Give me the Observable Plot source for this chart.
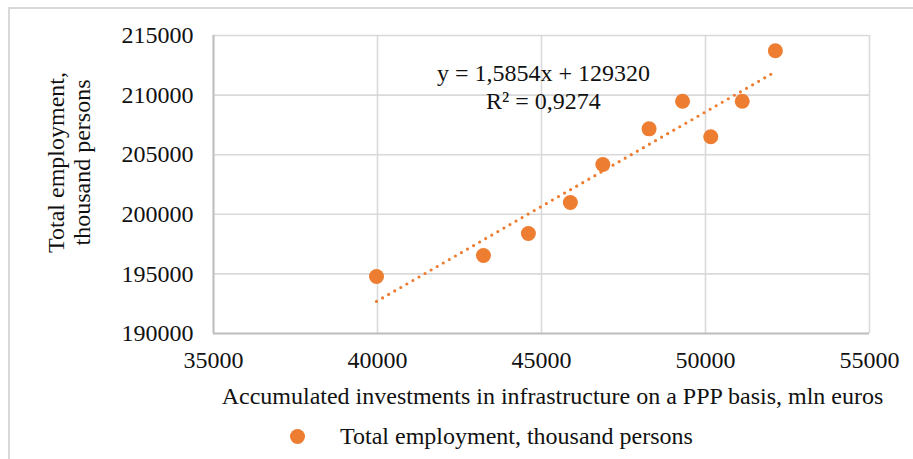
<!DOCTYPE html>
<html>
<head>
<meta charset="utf-8">
<script src="https://cdn.jsdelivr.net/npm/d3@7"></script>
<script src="https://cdn.jsdelivr.net/npm/@observablehq/plot@0.6"></script>
<style>
  html, body { margin: 0; padding: 0; background: #fff; }
  #wrap { position: relative; width: 913px; height: 459px; overflow: hidden; font-family: "Liberation Serif", "Times New Roman", serif; }
  #border { position: absolute; left: 8px; top: 7px; width: 1200px; height: 1200px; border-top: 2px solid #d9d9d9; border-left: 2px solid #d9d9d9; }
  #chart { position: absolute; left: 0; top: 0; }
  #legend { position: absolute; left: 290px; top: 421px; display: flex; align-items: center; font-size: 24px; color: #111; line-height: 30px; white-space: nowrap; }
  #legend .sw { width: 15px; height: 15px; border-radius: 50%; background: #ED7D31; margin-right: 35px; }
</style>
</head>
<body>
<div id="wrap">
  <div id="border"></div>
  <div id="chart"></div>
  <div id="legend"><span class="sw"></span><span id="legtext"></span></div>
</div>
<script>
// Data
const investments = [39970, 43230, 44600, 45880, 46870, 48280, 49300, 50160, 51120, 52130];
const employment  = [194780, 196540, 198390, 200990, 204180, 207170, 209490, 206500, 209490, 213720];
const xTicks = [35000, 40000, 45000, 50000, 55000];
const yTicks = [190000, 195000, 200000, 205000, 210000, 215000];
const trendSlope = 1.5854;
const trendIntercept = 129320;
const equationText = "y = 1,5854x + 129320\nR² = 0,9274";
const equationAt = {x: 45060, y: 210780};
const seriesName = "Total employment, thousand persons";
const xTitle = "Accumulated investments in infrastructure on a PPP basis, mln euros";
const yTitle = "Total employment,\nthousand persons";

const points = investments.map((x, i) => ({x, y: employment[i]}));
const xMin = d3.min(investments), xMax = d3.max(investments);
const trend = [xMin, xMax].map(x => ({x, y: trendSlope * x + trendIntercept}));

const orange = "#ED7D31";
const font = "24px";

const chart = Plot.plot({
  width: 913,
  height: 418,
  marginLeft: 213,
  marginRight: 44,
  marginTop: 35,
  marginBottom: 85,
  style: {fontFamily: '"Liberation Serif", "Times New Roman", serif', fontSize: font, color: "#111", background: "transparent", overflow: "visible"},
  x: {domain: [35000, 55000]},
  y: {domain: [190000, 215000]},
  marks: [
    Plot.gridX(xTicks, {stroke: "#d9d9d9", strokeOpacity: 1, strokeWidth: 1.6}),
    Plot.gridY(yTicks, {stroke: "#d9d9d9", strokeOpacity: 1, strokeWidth: 1.6}),
    Plot.ruleX([35000], {stroke: "#bfbfbf", strokeWidth: 2}),
    Plot.ruleY([190000], {stroke: "#bfbfbf", strokeWidth: 2}),
    Plot.axisX({ticks: xTicks, tickSize: 0, tickPadding: 17, tickFormat: d => String(d), fontSize: font, fill: "#111", label: null}),
    Plot.axisY({ticks: yTicks, tickSize: 0, tickPadding: 20, tickFormat: d => String(d), fontSize: font, fill: "#111", label: null}),
    Plot.text([xTitle], {frameAnchor: "bottom", text: d => d, dx: 11, dy: 70, fontSize: font, fill: "#111", lineAnchor: "bottom"}),
    Plot.text([yTitle], {frameAnchor: "left", text: d => d, dx: -145, dy: -22, rotate: -90, textAnchor: "middle", lineAnchor: "middle", fontSize: font, fill: "#111", lineHeight: 1.08}),
    Plot.line(trend, {x: "x", y: "y", stroke: orange, strokeWidth: 3.2, strokeDasharray: "0 7", strokeLinecap: "round"}),
    Plot.dot(points, {x: "x", y: "y", r: 7.5, fill: orange, stroke: "none"}),
    Plot.text([equationAt], {x: "x", y: "y", text: () => equationText, fontSize: font, fill: "#111", lineHeight: 1.17})
  ]
});
document.getElementById("chart").appendChild(chart);
document.getElementById("legtext").textContent = seriesName;
</script>
</body>
</html>
